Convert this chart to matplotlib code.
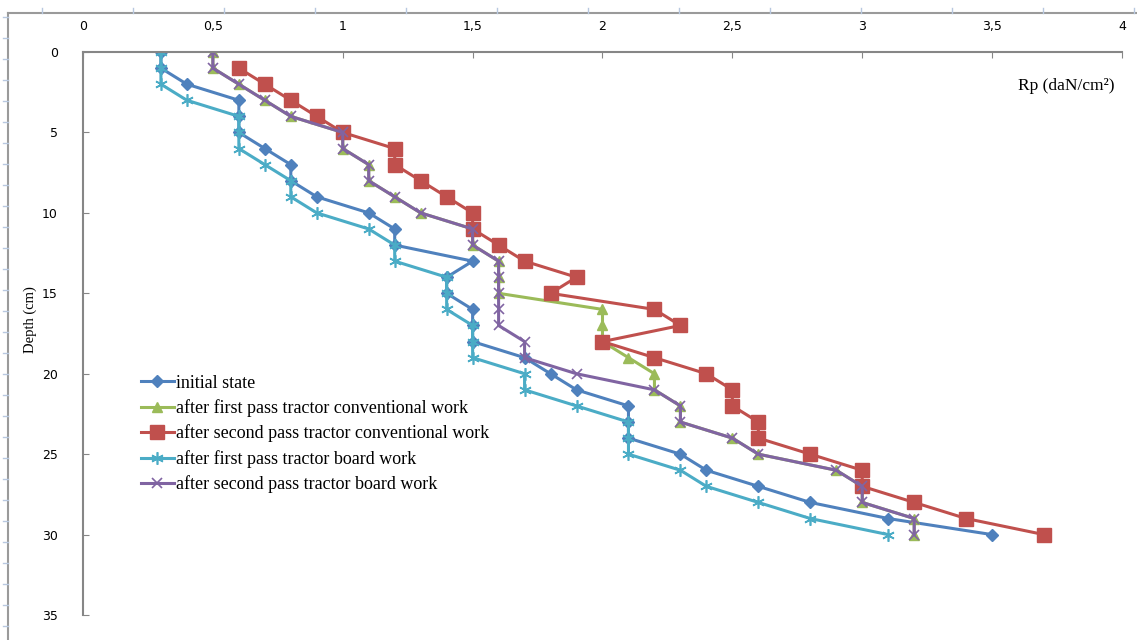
import numpy as np
import matplotlib.pyplot as plt
from matplotlib.lines import Line2D
from matplotlib.ticker import FuncFormatter

# profondeur (cm)
depth = np.arange(0, 31)

# résistance à la pénétration Rp (daN/cm2)
initial = [0.3, 0.3, 0.4, 0.6, 0.6, 0.6, 0.7, 0.8, 0.8, 0.9, 1.1,
           1.2, 1.2, 1.5, 1.4, 1.4, 1.5, 1.5, 1.5, 1.7, 1.8,
           1.9, 2.1, 2.1, 2.1, 2.3, 2.4, 2.6, 2.8, 3.1, 3.5]
first_conv = [0.5, 0.5, 0.6, 0.7, 0.8, 1.0, 1.0, 1.1, 1.1, 1.2, 1.3,
              1.5, 1.5, 1.6, 1.6, 1.6, 2.0, 2.0, 2.0, 2.1, 2.2,
              2.2, 2.3, 2.3, 2.5, 2.6, 2.9, 3.0, 3.0, 3.2, 3.2]
second_conv = [np.nan, 0.6, 0.7, 0.8, 0.9, 1.0, 1.2, 1.2, 1.3, 1.4, 1.5,
               1.5, 1.6, 1.7, 1.9, 1.8, 2.2, 2.3, 2.0, 2.2, 2.4,
               2.5, 2.5, 2.6, 2.6, 2.8, 3.0, 3.0, 3.2, 3.4, 3.7]
first_board = [0.3, 0.3, 0.3, 0.4, 0.6, 0.6, 0.6, 0.7, 0.8, 0.8, 0.9,
               1.1, 1.2, 1.2, 1.4, 1.4, 1.4, 1.5, 1.5, 1.5, 1.7,
               1.7, 1.9, 2.1, 2.1, 2.1, 2.3, 2.4, 2.6, 2.8, 3.1]
second_board = [0.5, 0.5, 0.6, 0.7, 0.8, 1.0, 1.0, 1.1, 1.1, 1.2, 1.3,
                1.5, 1.5, 1.6, 1.6, 1.6, 1.6, 1.6, 1.7, 1.7, 1.9,
                2.2, 2.3, 2.3, 2.5, 2.6, 2.9, 3.0, 3.0, 3.2, 3.2]

labels = ["initial state",
          "after first pass tractor conventional work",
          "after second pass tractor conventional work",
          "after first pass tractor board work",
          "after second pass tractor board work"]

fig = plt.figure(figsize=(11.37, 6.4), dpi=100)
ax = fig.add_axes([0.073, 0.039, 0.9138, 0.8797])

ax.plot(initial, depth, color="#4F81BD", lw=2.2, marker="D", ms=6, label=labels[0])
ax.plot(first_conv, depth, color="#9BBB59", lw=2.2, marker="^", ms=7.5, label=labels[1])
ax.plot(second_conv, depth, color="#C0504D", lw=2.2, marker="s", ms=9.5, label=labels[2])
ax.plot(first_board, depth, color="#4BACC6", lw=2.2, marker=(6, 2, 0), ms=9, mew=1.2, label=labels[3])
ax.plot(second_board, depth, color="#8064A2", lw=2.2, marker="x", ms=7, mew=1.2, label=labels[4])

ax.set_xlim(0, 4)
ax.set_ylim(35, 0)
ax.set_xticks(np.arange(0, 4.01, 0.5))
ax.set_yticks(np.arange(0, 36, 5))
ax.xaxis.set_major_formatter(FuncFormatter(lambda v, p: ("%g" % v).replace(".", ",")))
ax.xaxis.tick_top()
ax.tick_params(axis="x", direction="in", length=4, color="#868686", labelsize=9, pad=14)
ax.tick_params(axis="y", direction="in", length=4, color="#868686", labelsize=9, pad=18)
for s in ["right", "bottom"]:
    ax.spines[s].set_visible(False)
for s in ["top", "left"]:
    ax.spines[s].set_color("#868686")
    ax.spines[s].set_linewidth(1.5)

ax.set_ylabel("Depth (cm)", family="Liberation Serif", fontsize=10.5)
ax.yaxis.set_label_coords(-0.044, 0.524)
ax.text(3.97, 2.1, "Rp (daN/cm²)", family="Liberation Serif", fontsize=12.5, ha="right", va="center")

ax.legend(loc="upper left", bbox_to_anchor=(0.049, 0.44), frameon=False,
          prop={"family": "Liberation Serif", "size": 13},
          handlelength=1.8, handletextpad=0.12, labelspacing=0.42, borderaxespad=0)

# cadre extérieur (règle)
fig.add_artist(Line2D([8 / 1137, 8 / 1137], [0, 1 - 13 / 640], color="#9a9a9a", lw=1.5))
fig.add_artist(Line2D([8 / 1137, 1], [1 - 13 / 640, 1 - 13 / 640], color="#9a9a9a", lw=1.5))
for xp in np.arange(42, 1137, 91):
    fig.add_artist(Line2D([xp / 1137, xp / 1137], [1 - 13 / 640, 1 - 8 / 640], color="#b8c8e0", lw=1))
for yp in np.arange(17, 640, 21):
    fig.add_artist(Line2D([3 / 1137, 8 / 1137], [1 - yp / 640, 1 - yp / 640], color="#b8c8e0", lw=1))

plt.savefig("out.png", dpi=100)
